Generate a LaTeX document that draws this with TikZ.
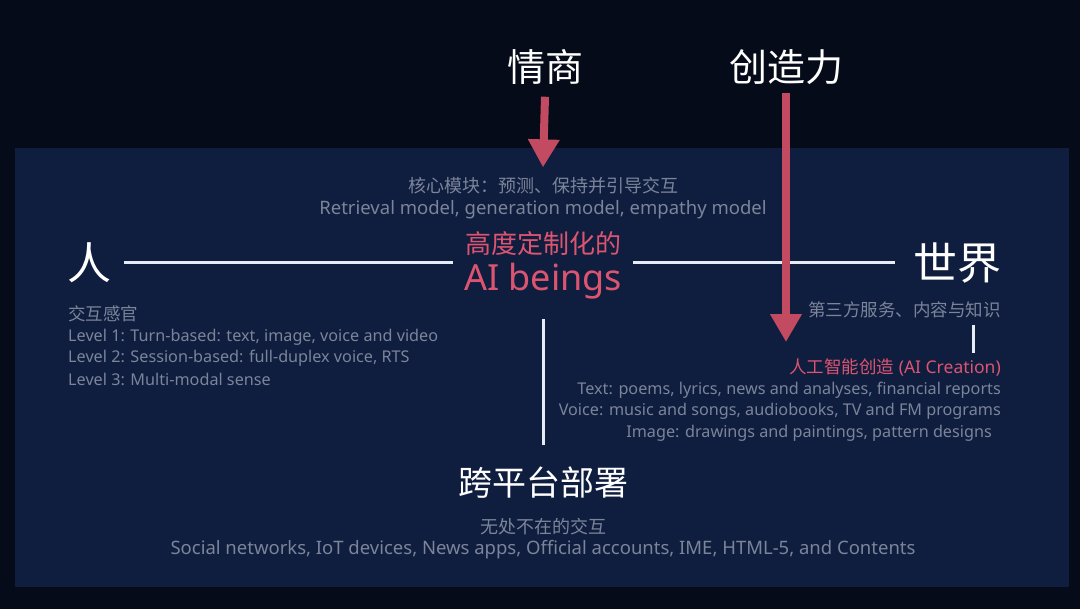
\documentclass[tikz,border=0pt]{standalone}
\usepackage{fontspec}
\setmainfont{Noto Sans}
\newfontfamily\cjk{Noto Sans CJK SC}
\usetikzlibrary{arrows.meta, positioning}

\definecolor{bgdark}{HTML}{050B19}
\definecolor{panelblue}{HTML}{0F1D3F}
\definecolor{greytext}{HTML}{7B8499}
\definecolor{pinktext}{HTML}{DC5570}
\definecolor{pinkarrow}{HTML}{C24B62}
\definecolor{lineclr}{HTML}{E6ECF4}

\tikzset{
  bigtitle/.style={text=white, inner sep=0pt, font=\cjk\fontsize{38}{40}\selectfont},
  cjknote/.style={text=greytext, inner sep=0pt, font=\cjk\fontsize{17.5}{20}\selectfont},
  note/.style={text=greytext, inner sep=0pt, font=\fontsize{16.2}{18}\selectfont},
  whiteline/.style={draw=lineclr, line width=3pt},
  pinkarrowline/.style={draw=pinkarrow, line width=8pt, -{Triangle[width=30pt,length=28pt]}}
}

\begin{document}
\begin{tikzpicture}[x=1pt, y=-1pt]
    % 1. 背景和面板
    \fill[bgdark] (0,0) rectangle (1080,609);
    \fill[panelblue] (15,148) rectangle (1069,587);
    \useasboundingbox (0,0) rectangle (1080,609);

    % 2. 顶部标题
    \node[bigtitle] (qingshang) at (545,67) {情商};
    \node[bigtitle] (chuangzao) at (786,67) {创造力};

    % 3. 中心 AI beings
    \node[cjknote, font=\cjk\fontsize{18}{20}\selectfont] (hexin) at (543,186) {核心模块：预测、保持并引导交互};
    \node[note, font=\fontsize{18.5}{20}\selectfont] (retrieval) at (543,210)
        {Retrieval model, generation model, empathy model};
    \node[text=pinktext, inner sep=0pt, font=\cjk\fontsize{26}{28}\selectfont]
        (custom) at (543,244) {高度定制化的};
    \node[text=pinktext, inner xsep=11pt, inner ysep=0pt, font=\fontsize{36}{38}\selectfont]
        (ai) at (543,281) {AI beings};

    % 4. 左右两端
    \node[bigtitle, font=\cjk\fontsize{44}{46}\selectfont, inner xsep=13pt] (ren) at (89,263) {人};
    \node[bigtitle, font=\cjk\fontsize{44}{46}\selectfont, inner xsep=18pt] (shijie) at (957,263) {世界};

    % 5. 左侧说明
    \node[cjknote, anchor=west] (sense) at (68,314) {交互感官};
    \node[note, anchor=west] (level1) at (68,337) {Level 1: Turn-based: text, image, voice and video};
    \node[note, anchor=west] (level2) at (68,358) {Level 2: Session-based: full-duplex voice, RTS};
    \node[note, anchor=west] (level3) at (68,379) {Level 3: Multi-modal sense};

    % 6. 右侧说明
    \node[cjknote, anchor=east] (third) at (1001,310) {第三方服务、内容与知识};
    \node[text=pinktext, inner sep=0pt, anchor=east, font=\fontsize{17.5}{20}\selectfont]
        (creation) at (1001,368) {{\cjk 人工智能创造} (AI Creation)};
    \node[note, anchor=east] (textline) at (1001,390) {Text: poems, lyrics, news and analyses, financial reports};
    \node[note, anchor=east] (voiceline) at (1001,411) {Voice: music and songs, audiobooks, TV and FM programs};
    \node[note, anchor=east] (imageline) at (992,433) {Image: drawings and paintings, pattern designs};

    % 7. 底部
    \node[bigtitle, font=\cjk\fontsize{34}{36}\selectfont, inner ysep=22pt] (kuaping) at (543,483) {跨平台部署};
    \node[cjknote, font=\cjk\fontsize{18}{20}\selectfont] (ubiq) at (543,527) {无处不在的交互};
    \node[note, font=\fontsize{18.5}{20}\selectfont] (social) at (543,550)
        {Social networks, IoT devices, News apps, Official accounts, IME, HTML-5, and Contents};

    % 8. 连线
    \draw[whiteline] (ren.east) -- (ren.east -| ai.west);
    \draw[whiteline] (ai.east |- ren.east) -- (shijie.west |- ren.east);
    \draw[whiteline] ([yshift=-20pt]ai.south) -- (kuaping.north);
    \draw[whiteline] ([xshift=-28pt, yshift=-7pt]third.south east) -- ([xshift=-28pt, yshift=6pt]creation.north east);

    % 9. 箭头
    \draw[pinkarrowline] ([yshift=-12pt]qingshang.south) -- ([yshift=10pt]hexin.north);
    \draw[pinkarrowline] ([yshift=-8pt]chuangzao.south) -- ([yshift=17pt]creation.north -| chuangzao.south);
\end{tikzpicture}
\end{document}
